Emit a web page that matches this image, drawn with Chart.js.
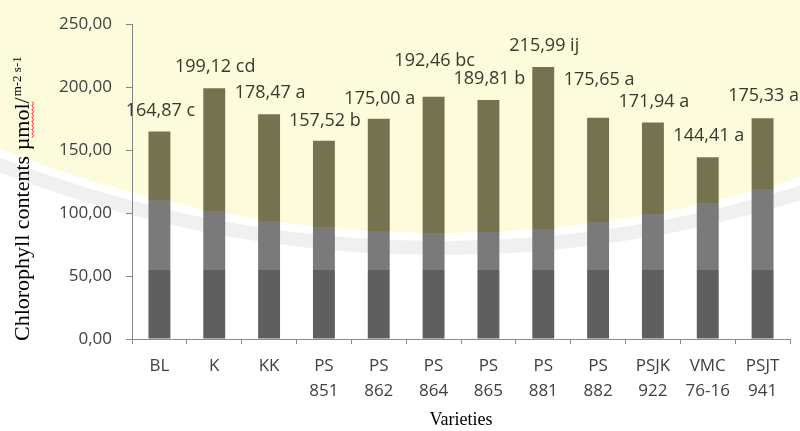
<!DOCTYPE html>
<html>
<head>
<meta charset="utf-8">
<script src="https://cdn.jsdelivr.net/npm/chart.js@4.4.1/dist/chart.umd.min.js"></script>
<style>
html,body{margin:0;padding:0;background:#fff;}
#wrap{width:800px;height:431px;}
</style>
</head>
<body>
<div id="wrap"><canvas id="c" width="800" height="431"></canvas></div>
<script>
// ---- data ----
const categories = [["BL"],["K"],["KK"],["PS","851"],["PS","862"],["PS","864"],["PS","865"],["PS","881"],["PS","882"],["PSJK","922"],["VMC","76-16"],["PSJT","941"]];
const chlorophyll = [164.87,199.12,178.47,157.52,175.00,192.46,189.81,215.99,175.65,171.94,144.41,175.33];
const letters = ["c","cd","a","b","a","bc","b","ij","a","a","a","a"];
const yTickValues = [0,50,100,150,200,250];
const yTitleMain = "Chlorophyll contents \u00b5mol/";
const yTitleSup = "m-2 s-1";
const xTitle = "Varieties";

// ---- helpers ----
const fmt = v => Number(v).toFixed(2).replace('.', ',');

// watermark (pale yellow disc from the source scan)
const WM = {cx: 440, cy: -959, r: 1192};
function wmEdge(x){
  const dx = x - WM.cx;
  return WM.cy + Math.sqrt(Math.max(0, WM.r*WM.r - dx*dx));
}

function barFill(ctx){
  const chart = ctx.chart;
  if (!chart.chartArea || !chart.scales.x) return '#5f5f5f';
  const H = chart.height;
  const x = chart.scales.x.getPixelForValue(ctx.dataIndex);
  const edge = Math.min(wmEdge(x), 265) / H;
  const band = 270 / H;
  const g = chart.ctx.createLinearGradient(0, 0, 0, H);
  g.addColorStop(0, '#75734f');
  g.addColorStop(edge, '#75734f');
  g.addColorStop(edge, '#7a7a7a');
  g.addColorStop(band, '#7a7a7a');
  g.addColorStop(band, '#5f5f5f');
  g.addColorStop(1, '#5f5f5f');
  return g;
}

const bgPlugin = {
  id: 'bgPlugin',
  beforeDraw(chart){
    const c = chart.ctx;
    c.save();
    c.fillStyle = '#ffffff';
    c.fillRect(0, 0, chart.width, chart.height);
    // faint gray ring of the watermark
    c.beginPath();
    c.arc(WM.cx, WM.cy, WM.r + 22, 0, Math.PI*2);
    c.fillStyle = '#f0f0f0';
    c.fill();
    c.beginPath();
    c.arc(WM.cx, WM.cy, WM.r + 8, 0, Math.PI*2);
    c.fillStyle = '#ffffff';
    c.fill();
    c.beginPath();
    c.arc(WM.cx, WM.cy, WM.r, 0, Math.PI*2);
    c.fillStyle = '#fcfcdc';
    c.fill();
    c.restore();
  }
};

const labelPlugin = {
  id: 'barLabels',
  afterDatasetsDraw(chart, args, opts){
    const c = chart.ctx;
    const meta = chart.getDatasetMeta(0);
    c.save();
    c.font = '18px "Open Sans"';
    c.fillStyle = '#38382e';
    c.textAlign = 'center';
    c.textBaseline = 'middle';
    meta.data.forEach((bar, i) => {
      const lift = opts.lift[i];
      c.fillText(fmt(chlorophyll[i]) + ' ' + letters[i], bar.x + 1, bar.y - lift);
    });
    c.restore();
  }
};

const yTitlePlugin = {
  id: 'yTitle',
  afterDraw(chart){
    const c = chart.ctx;
    c.save();
    c.translate(29, 341);
    c.rotate(-Math.PI/2);
    c.fillStyle = '#000';
    c.textAlign = 'left';
    c.textBaseline = 'alphabetic';
    c.font = '22px "Liberation Serif"';
    c.fillText(yTitleMain, 0, 0);
    const wMain = c.measureText(yTitleMain).width;
    const wStart = c.measureText("Chlorophyll contents \u00b5").width;
    c.font = '13px "Liberation Serif"';
    c.fillText(yTitleSup, wMain + 1, -8);
    // red spell-check squiggle under "mol"
    c.strokeStyle = '#e02020';
    c.lineWidth = 1;
    c.beginPath();
    for (let x = wStart, k = 0; x <= wMain - 4; x += 2, k++) {
      const y = 3 + (k % 2 ? 1.5 : 0);
      if (k === 0) c.moveTo(x, y); else c.lineTo(x, y);
    }
    c.stroke();
    c.restore();
  }
};

new Chart(document.getElementById('c'), {
  type: 'bar',
  data: {
    labels: categories,
    datasets: [{
      data: chlorophyll,
      backgroundColor: barFill,
      borderWidth: 0,
      barPercentage: 0.4,
      categoryPercentage: 1.0
    }]
  },
  options: {
    responsive: false,
    animation: false,
    devicePixelRatio: 1,
    layout: {padding: {top: 20, right: 10, left: 0, bottom: 0}},
    plugins: {
      legend: {display: false},
      tooltip: {enabled: false},
      barLabels: {lift: [21,21,21,20,20,36,21,21,38,21,21,22]}
    },
    scales: {
      x: {
        grid: {offset: true, drawOnChartArea: false, drawTicks: true, tickLength: 5, color: '#8a8a8a'},
        border: {color: '#8a8a8a', width: 1},
        ticks: {color: '#404040', font: {family: 'Open Sans', size: 17, lineHeight: 1.47}, padding: 10, maxRotation: 0, autoSkip: false},
        title: {display: true, text: xTitle, color: '#000', font: {family: 'Liberation Serif', size: 18, lineHeight: 1.2}, padding: {top: 0, bottom: 0}},
        afterFit(s){ s.height = 92; }
      },
      y: {
        min: 0, max: 250,
        afterBuildTicks(s){ s.ticks = yTickValues.map(v => ({value: v})); },
        grid: {drawOnChartArea: false, drawTicks: true, tickLength: 6, color: '#868686'},
        border: {color: '#868686', width: 1},
        ticks: {color: '#404040', font: {family: 'Open Sans', size: 17}, padding: 14, callback: v => fmt(v)},
        afterFit(s){ s.width = 132; }
      }
    }
  },
  plugins: [bgPlugin, labelPlugin, yTitlePlugin]
});
</script>
</body>
</html>
